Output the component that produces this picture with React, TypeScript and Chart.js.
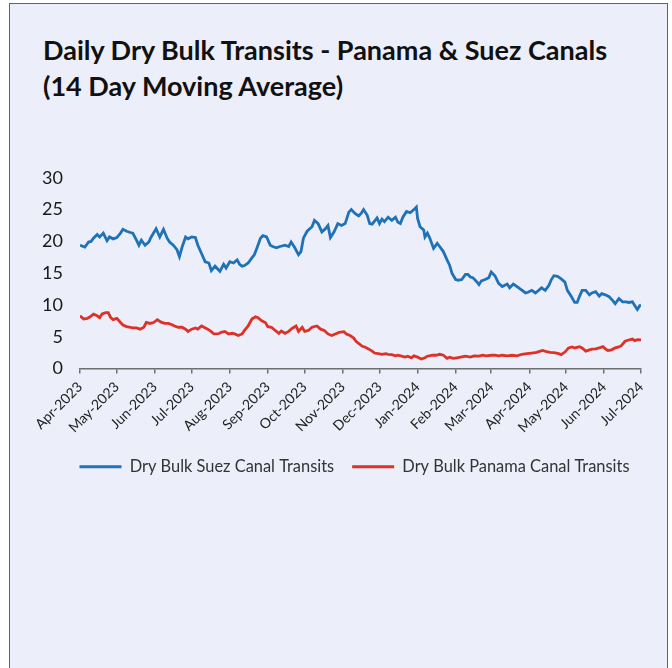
import React, { useEffect, useRef } from "react";
import { Chart, registerables } from "chart.js";

Chart.register(...registerables);

// Month tick labels and their day offsets from 2023-04-01
const monthLabels = [
  "Apr-2023", "May-2023", "Jun-2023", "Jul-2023", "Aug-2023", "Sep-2023",
  "Oct-2023", "Nov-2023", "Dec-2023", "Jan-2024", "Feb-2024", "Mar-2024",
  "Apr-2024", "May-2024", "Jun-2024", "Jul-2024",
];
const monthStartDays = [0, 30, 61, 91, 122, 153, 183, 214, 244, 275, 306, 335, 366, 396, 427, 457];

// Dry Bulk Suez Canal Transits (day offset, value)
const suezDays = [
  0, 4, 7, 9, 11, 14, 16, 19, 22, 24, 27, 30, 33, 35, 38, 41, 43, 46, 48, 50,
  53, 56, 58, 62, 65, 68, 71, 73, 76, 79, 81, 83, 86, 88, 91, 94, 96, 99, 102, 105,
  107, 110, 114, 117, 119, 122, 125, 128, 130, 132, 134, 137, 140, 142, 144, 147, 149, 152, 155, 157,
  160, 163, 167, 170, 172, 175, 178, 180, 182, 185, 189, 191, 194, 197, 200, 202, 204, 207, 210, 213,
  216, 219, 221, 224, 227, 229, 231, 234, 236, 238, 242, 244, 246, 248, 251, 254, 257, 259, 261, 263,
  266, 269, 272, 274, 275, 277, 280, 281, 283, 285, 288, 291, 293, 296, 299, 301, 303, 306, 308, 311,
  314, 316, 318, 320, 323, 325, 327, 330, 333, 335, 338, 341, 344, 348, 350, 353, 356, 358, 363, 365,
  368, 371, 373, 376, 379, 382, 384, 386, 389, 392, 395, 397, 400, 403, 405, 407, 409, 412, 415, 417,
  420, 423, 425, 428, 431, 434, 436, 439, 442, 445, 447, 450, 452, 454, 456, 457,
];
const suezValues = [
  19.4, 19.1, 19.9, 20.0, 20.5, 21.1, 20.7, 21.3, 20.1, 20.7, 20.4, 20.6, 21.3, 21.9, 21.6, 21.4, 21.3, 20.2, 19.4, 20.2,
  19.4, 19.9, 20.7, 22.0, 20.7, 21.9, 20.5, 19.9, 19.4, 18.7, 17.6, 19.0, 20.7, 20.4, 20.7, 20.6, 19.4, 18.1, 16.8, 16.6,
  15.4, 16.1, 15.3, 16.4, 15.8, 16.8, 16.6, 17.1, 16.4, 16.1, 16.2, 16.6, 17.4, 17.9, 18.9, 20.5, 20.9, 20.7, 19.4, 19.2,
  19.0, 19.2, 19.4, 19.2, 19.9, 19.0, 17.9, 18.4, 20.5, 21.6, 22.3, 23.3, 22.8, 21.5, 22.0, 22.5, 20.6, 21.5, 22.8, 22.5,
  22.8, 24.6, 25.0, 24.4, 24.0, 24.4, 25.0, 24.1, 22.8, 22.7, 23.7, 22.8, 23.5, 23.1, 23.8, 23.3, 23.8, 23.0, 22.8, 23.8,
  24.7, 24.5, 25.0, 25.4, 23.6, 22.3, 21.8, 20.7, 21.3, 20.5, 18.9, 19.7, 19.2, 18.4, 17.1, 16.3, 15.0, 14.0, 13.9, 14.0,
  14.8, 14.8, 14.4, 14.3, 13.7, 13.2, 13.8, 14.0, 14.3, 15.2, 14.6, 13.4, 12.9, 13.3, 12.7, 13.3, 12.9, 12.6, 11.9, 12.0,
  12.3, 11.9, 12.2, 12.7, 12.3, 13.1, 14.0, 14.6, 14.5, 14.1, 13.6, 12.3, 11.4, 10.4, 10.4, 11.4, 12.3, 12.3, 11.6, 11.9,
  12.1, 11.4, 11.8, 11.6, 11.3, 10.7, 10.2, 11.0, 10.5, 10.5, 10.4, 10.5, 9.9, 9.3, 9.9, 10.0,
];

// Dry Bulk Panama Canal Transits (day offset, value)
const panamaDays = [
  0, 3, 6, 8, 11, 14, 16, 18, 21, 23, 25, 27, 30, 33, 35, 38, 41, 43, 46, 49,
  52, 54, 57, 60, 63, 66, 69, 72, 75, 77, 80, 83, 86, 88, 91, 94, 96, 99, 101, 104,
  107, 109, 113, 115, 118, 121, 124, 126, 129, 132, 134, 137, 140, 143, 145, 148, 151, 153, 156, 159,
  162, 164, 167, 170, 173, 176, 178, 181, 183, 186, 189, 193, 196, 199, 202, 205, 208, 211, 215, 217,
  220, 223, 225, 228, 230, 232, 235, 238, 240, 243, 246, 249, 251, 254, 257, 259, 262, 265, 267, 270,
  272, 275, 278, 281, 283, 287, 290, 293, 296, 299, 301, 304, 307, 310, 314, 318, 321, 325, 328, 331,
  335, 338, 341, 344, 348, 352, 356, 360, 364, 368, 372, 375, 377, 380, 383, 386, 390, 392, 395, 398,
  401, 403, 407, 409, 412, 415, 417, 420, 423, 426, 428, 430, 433, 436, 439, 441, 444, 447, 450, 452,
  454, 457,
];
const panamaValues = [
  8.3, 7.8, 7.9, 8.1, 8.55, 8.3, 8.0, 8.6, 8.8, 8.8, 8.0, 7.7, 7.9, 7.25, 6.85, 6.6, 6.5, 6.4, 6.4, 6.2,
  6.5, 7.25, 7.1, 7.25, 7.7, 7.3, 7.1, 7.1, 6.9, 6.7, 6.5, 6.5, 6.2, 5.85, 6.2, 6.4, 6.2, 6.7, 6.5, 6.2,
  5.8, 5.45, 5.5, 5.7, 5.85, 5.45, 5.55, 5.45, 5.2, 5.45, 6.0, 6.7, 7.8, 8.15, 8.0, 7.5, 7.25, 6.6, 6.5, 6.0,
  5.55, 5.9, 5.55, 5.85, 6.35, 6.7, 5.85, 6.5, 5.85, 6.0, 6.5, 6.7, 6.2, 6.0, 5.45, 5.2, 5.45, 5.7, 5.8, 5.45,
  5.2, 4.8, 4.25, 3.8, 3.5, 3.4, 3.1, 2.75, 2.45, 2.35, 2.25, 2.35, 2.25, 2.2, 2.0, 2.1, 1.95, 1.8, 1.95, 1.7,
  2.0, 1.8, 1.5, 1.7, 1.95, 2.1, 2.1, 2.25, 2.1, 1.6, 1.8, 1.6, 1.7, 1.8, 1.95, 1.8, 2.0, 1.95, 2.1, 2.0,
  2.1, 2.1, 2.0, 2.1, 2.0, 2.1, 2.0, 2.25, 2.35, 2.45, 2.55, 2.75, 2.85, 2.65, 2.55, 2.5, 2.35, 2.2, 2.6, 3.25,
  3.4, 3.25, 3.45, 3.25, 2.75, 2.95, 3.05, 3.1, 3.25, 3.45, 3.1, 2.85, 2.95, 3.25, 3.4, 3.6, 4.3, 4.5, 4.65, 4.4,
  4.55, 4.5,
];

const yTicks = [0, 5, 10, 15, 20, 25, 30];

const FONT = "Lato, 'Open Sans', sans-serif";
const SUEZ_COLOR = "#1f72b8";
const PANAMA_COLOR = "#de3127";

// shifts the legend block horizontally so it is centred on the panel
const legendShift = {
  id: "legendShift",
  afterLayout(chart: any) {
    const l = chart.legend;
    if (l) {
      l.left += 24;
      l.right += 24;
    }
  },
};

export default function App() {
  const canvasRef = useRef<HTMLCanvasElement | null>(null);

  useEffect(() => {
    const canvas = canvasRef.current;
    if (!canvas) return;
    const chart = new Chart(canvas, {
      type: "line",
      data: {
        datasets: [
          {
            label: "Dry Bulk Suez Canal Transits",
            data: suezDays.map((d, i) => ({ x: d, y: suezValues[i] })),
            borderColor: SUEZ_COLOR,
            backgroundColor: SUEZ_COLOR,
            borderWidth: 2.8,
            pointRadius: 0,
            tension: 0,
          },
          {
            label: "Dry Bulk Panama Canal Transits",
            data: panamaDays.map((d, i) => ({ x: d, y: panamaValues[i] })),
            borderColor: PANAMA_COLOR,
            backgroundColor: PANAMA_COLOR,
            borderWidth: 2.8,
            pointRadius: 0,
            tension: 0,
          },
        ],
      },
      plugins: [legendShift],
      options: {
        animation: false,
        responsive: false,
        maintainAspectRatio: false,
        layout: { padding: { top: 12, right: 19, left: 0, bottom: 0 } },
        plugins: {
          legend: {
            position: "bottom",
            labels: {
              boxWidth: 42,
              boxHeight: 3,
              padding: 18,
              color: "#333333",
              font: { family: FONT, size: 16.4 },
              generateLabels: (chart: any) =>
                Chart.defaults.plugins.legend.labels
                  .generateLabels(chart)
                  .map((l: any) => ({ ...l, lineWidth: 0 })),
            },
          },
          title: { display: false },
          tooltip: { enabled: false },
        },
        scales: {
          x: {
            type: "linear",
            min: monthStartDays[0],
            max: monthStartDays[monthStartDays.length - 1],
            afterBuildTicks: (scale: any) => {
              scale.ticks = monthStartDays.map((v) => ({ value: v }));
            },
            afterFit: (scale: any) => {
              scale.height = 72;
            },
            ticks: {
              autoSkip: false,
              minRotation: 45,
              maxRotation: 45,
              padding: 5,
              color: "#222222",
              font: { family: FONT, size: 14 },
              callback: (_v: any, i: number) => monthLabels[i],
            },
            grid: {
              display: true,
              drawOnChartArea: false,
              drawTicks: true,
              tickLength: 5,
              color: "#6f6f6f",
              lineWidth: 1.5,
            },
            border: { display: true, color: "#6f6f6f", width: 1.5 },
          },
          y: {
            min: 0,
            max: 30,
            afterBuildTicks: (scale: any) => {
              scale.ticks = yTicks.map((v) => ({ value: v }));
            },
            afterFit: (scale: any) => {
              scale.width = 60;
            },
            ticks: {
              padding: 17,
              color: "#1a1a1a",
              font: { family: FONT, size: 18 },
            },
            grid: { display: false, drawTicks: false },
            border: { display: false },
          },
        },
      },
    });
    return () => chart.destroy();
  }, []);

  return (
    <div
      style={{
        position: "fixed",
        left: 0,
        top: 0,
        width: 672,
        height: 668,
        overflow: "hidden",
        background: "#ffffff",
      }}
    >
      <div
        style={{
          position: "absolute",
          left: 9,
          top: 3,
          width: 657,
          height: 720,
          background: "#eceef9",
          border: "1.5px solid #2e6fb3",
        }}
      />
      <div
        style={{
          position: "absolute",
          left: 43,
          top: 32,
          fontFamily: FONT,
          fontWeight: 700,
          fontSize: 27,
          lineHeight: "36px",
          color: "#111111",
          whiteSpace: "nowrap",
        }}
      >
        <div>Daily Dry Bulk Transits - Panama &amp; Suez Canals</div>
        <div>(14 Day Moving Average)</div>
      </div>
      <canvas
        ref={canvasRef}
        width={640}
        height={335}
        style={{ position: "absolute", left: 20, top: 150, width: 640, height: 335 }}
      />
    </div>
  );
}
